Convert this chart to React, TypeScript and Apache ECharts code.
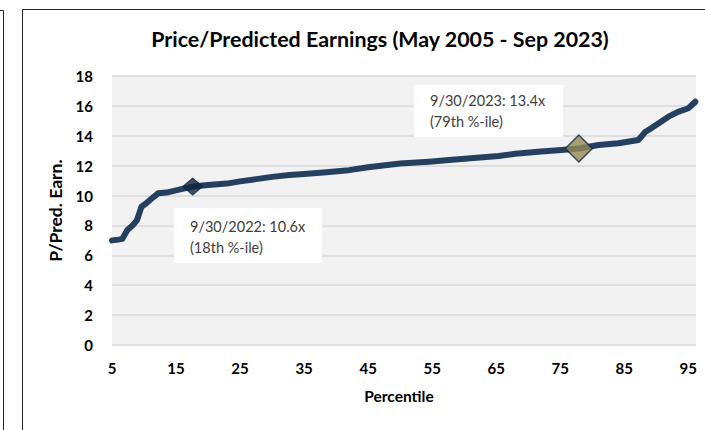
import React, { useEffect, useRef } from "react";
import * as echarts from "echarts";

const titleText = "Price/Predicted Earnings (May 2005 - Sep 2023)";
const yAxisName = "P/Pred. Earn.";
const xAxisName = "Percentile";
const xTickValues = [5, 15, 25, 35, 45, 55, 65, 75, 85, 95];

const curve: [number, number][] = [
  [5, 7.0], [6, 7.05], [6.6, 7.1], [7.4, 7.7], [8.2, 8.0], [8.9, 8.35], [9.6, 9.25],
  [10.4, 9.5], [11.2, 9.8], [12.2, 10.15], [13.5, 10.2], [14.5, 10.3], [16, 10.45],
  [17.6, 10.6], [20, 10.7], [22.9, 10.8], [25, 10.95], [27.5, 11.1], [30, 11.25],
  [32.7, 11.37], [35, 11.45], [38, 11.55], [42, 11.7], [45, 11.9], [48, 12.05],
  [50, 12.15], [54.5, 12.27], [57.6, 12.38], [61, 12.5], [65.4, 12.65], [68, 12.8],
  [72, 12.95], [75.2, 13.05], [77.9, 13.15], [81, 13.38], [84.1, 13.5], [87.2, 13.72],
  [88.3, 14.27], [89.2, 14.5], [91.9, 15.28], [93.4, 15.6], [95, 15.84], [96.1, 16.28],
];

const point2022: [number, number][] = [[17.6, 10.6]];
const point2023: [number, number][] = [[77.9, 13.15]];

const note2022 = ["9/30/2022: 10.6x", "(18th %-ile)"];
const note2023 = ["9/30/2023: 13.4x", "(79th %-ile)"];

const FONT = "Lato, 'Open Sans', sans-serif";

export default function App() {
  const ref = useRef<HTMLDivElement>(null);
  useEffect(() => {
    if (!ref.current) return;
    const chart = echarts.init(ref.current, undefined, { renderer: "svg" });
    chart.setOption({
      animation: false,
      backgroundColor: "#ffffff",
      textStyle: { fontFamily: FONT },
      title: {
        text: titleText,
        left: 375,
        top: 23.5,
        textAlign: "center",
        textStyle: { fontFamily: FONT, fontSize: 21.4, fontWeight: "bold", color: "#000" },
      },
      grid: {
        left: 112,
        right: 9,
        top: 76,
        bottom: 85,
        show: true,
        backgroundColor: "#f2f2f2",
        borderWidth: 0,
      },
      xAxis: {
        type: "value",
        min: 5,
        max: 96.2,
        interval: 10,
        name: xAxisName,
        nameLocation: "middle",
        nameGap: 43,
        nameTextStyle: { fontFamily: FONT, fontSize: 15.5, fontWeight: "bold", color: "#000", padding: [0, 10, 0, 0] },
        axisLine: { show: false },
        axisTick: { show: false },
        splitLine: { show: false },
        axisLabel: {
          margin: 15,
          fontFamily: FONT,
          fontSize: 15,
          fontWeight: "bold",
          color: "#000",
          showMaxLabel: false,
          formatter: (v: number) => (xTickValues.indexOf(Math.round(v * 10) / 10) >= 0 ? String(v) : ""),
        },
      },
      yAxis: {
        type: "value",
        min: 0,
        max: 18,
        interval: 2,
        name: yAxisName,
        nameLocation: "middle",
        nameGap: 45,
        nameRotate: 90,
        nameTextStyle: { fontFamily: FONT, fontSize: 17.5, fontWeight: "bold", color: "#000" },
        axisLine: { show: false },
        axisTick: { show: false },
        splitLine: { lineStyle: { color: "#d9d9d9", width: 1.5 } },
        axisLabel: { margin: 19, fontFamily: FONT, fontSize: 15, fontWeight: "bold", color: "#000" },
      },
      series: [
        {
          type: "line",
          data: curve,
          showSymbol: false,
          symbol: "none",
          lineStyle: { color: "#243f60", width: 6, cap: "round", join: "round" },
          z: 2,
        },
        {
          type: "scatter",
          data: point2022,
          symbol: "diamond",
          symbolSize: [20, 17],
          itemStyle: { color: "#10243f", borderColor: "#10243f", borderWidth: 1 },
          z: 3,
        },
        {
          type: "scatter",
          data: point2023,
          symbol: "diamond",
          symbolSize: [27, 27],
          itemStyle: { color: "#948a54", borderColor: "#13294a", borderWidth: 1.5 },
          z: 3,
        },
      ],
      graphic: [
        { type: "polyline", shape: { points: [[0, 10.5], [3.5, 10.5], [3.5, 430]] }, style: { stroke: "#262626", lineWidth: 1, fill: "none" } },
        { type: "rect", shape: { x: 22.5, y: 9.5, width: 720, height: 440 }, style: { stroke: "#262626", lineWidth: 1, fill: "none" }, z: 10 },
        { type: "rect", shape: { x: 174, y: 208, width: 148, height: 55 }, style: { fill: "#ffffff" }, z: 20 },
        { type: "text", x: 190, y: 215.5, style: { text: note2022.join("\n"), fontFamily: FONT, fontSize: 14.5, lineHeight: 21, fill: "#404040" }, z: 21 },
        { type: "rect", shape: { x: 414, y: 85, width: 149, height: 52 }, style: { fill: "#ffffff" }, z: 20 },
        { type: "text", x: 430, y: 89.5, style: { text: note2023.join("\n"), fontFamily: FONT, fontSize: 14.5, lineHeight: 21, fill: "#404040" }, z: 21 },
      ],
    });
    return () => chart.dispose();
  }, []);
  return <div ref={ref} style={{ position: "absolute", left: 0, top: 0, width: 705, height: 430 }} />;
}
